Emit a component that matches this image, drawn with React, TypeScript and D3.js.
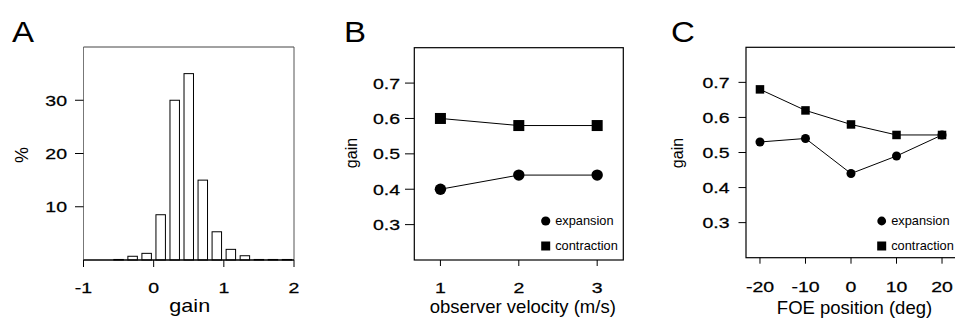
import React from "react";
import * as d3 from "d3";

// Panel A: histogram of gain
const histCenters = [-0.5, -0.3, -0.1, 0.1, 0.3, 0.5, 0.7, 0.9, 1.1, 1.3, 1.5, 1.7, 1.9];
const histPercent = [0.1, 0.7, 1.25, 8.5, 30, 35, 15, 5.3, 2.0, 0.8, 0.1, 0.1, 0.1];
const histXTicks = [-1, 0, 1, 2];
const histYTicks = [10, 20, 30];

// Panel B: observer velocity
const velocity = [1, 2, 3];
const velExpansion = [0.4, 0.44, 0.44];
const velContraction = [0.6, 0.58, 0.58];

// Panel C: FOE position
const foePos = [-20, -10, 0, 10, 20];
const foeExpansion = [0.53, 0.54, 0.44, 0.49, 0.55];
const foeContraction = [0.68, 0.62, 0.58, 0.55, 0.55];

const gainTicks = [0.3, 0.4, 0.5, 0.6, 0.7];
const legendLabels = ["expansion", "contraction"];

const FONT = "'Liberation Sans', Arial, Helvetica, sans-serif";
const SX = 1.3;

function Tick({ x, y, anchor, children }: { x: number; y: number; anchor: string; children: React.ReactNode }) {
  return (
    <text transform={`translate(${x},${y}) scale(${SX},1)`} textAnchor={anchor} fontSize={15}
      fontFamily={FONT} fill="#000" stroke="#000" strokeWidth={0.25}>{children}</text>
  );
}

function PanelA() {
  const L = 83.5, R = 294, T = 47, B = 260;
  const x = d3.scaleLinear().domain([-1, 2]).range([L, R]);
  const y = d3.scaleLinear().domain([0, 40]).range([B, T]);
  const bw = x(0.135) - x(0);
  return (
    <g>
      <text transform="translate(12,41.5) scale(1.1,1)" fontSize={30} fontFamily={FONT}>A</text>
      <line x1={L} x2={L} y1={T} y2={B} stroke="#777" strokeWidth={1} />
      <line x1={L} x2={R} y1={T} y2={T} stroke="#444" strokeWidth={1} />
      <line x1={R} x2={R} y1={T} y2={B} stroke="#555" strokeWidth={1} />
      {histCenters.map((c, i) => (
        <rect key={i} x={x(c) - bw / 2} y={y(histPercent[i])} width={bw}
          height={B - y(histPercent[i])} fill="#fff" stroke="#000" strokeWidth={1} />
      ))}
      <line x1={L} x2={R} y1={B} y2={B} stroke="#000" strokeWidth={1.4} />
      {histYTicks.map((t) => (
        <g key={t}>
          <line x1={75} x2={L} y1={y(t)} y2={y(t)} stroke="#000" strokeWidth={1} />
          <Tick x={67} y={y(t) + 5.5} anchor="end">{t}</Tick>
        </g>
      ))}
      {histXTicks.map((t) => (
        <g key={t}>
          <line x1={x(t)} x2={x(t)} y1={B} y2={B + 7} stroke="#000" strokeWidth={1} />
          <Tick x={x(t)} y={293} anchor="middle">{t}</Tick>
        </g>
      ))}
      <text transform={`translate(${(L + R) / 2 + 1},312) scale(1.2,1)`} textAnchor="middle"
        fontSize={18} fontFamily={FONT}>gain</text>
      <text transform={`translate(28,${155}) rotate(-90)`} textAnchor="middle"
        fontSize={18} fontFamily={FONT}>%</text>
    </g>
  );
}

type LineProps = {
  letter: string; letterX: number;
  L: number; R: number; T: number; B: number;
  xDomain: [number, number]; xs: number[];
  exp: number[]; con: number[];
  sq: number; r: number;
  tickLabelRight: number; tickStart: number;
  ylabX: number; xTitle: string; xTitleY: number; xTickY: number;
  legX: number; legY: number; legR: number; legSq: number;
};

function LinePanel(p: LineProps) {
  const x = d3.scaleLinear().domain(p.xDomain).range([p.L, p.R]);
  const y = d3.scaleLinear().domain([0.2, 0.8]).range([p.B, p.T]);
  const line = d3.line<number>().x((_, i) => x(p.xs[i])).y((v) => y(v));
  return (
    <g>
      <text transform={`translate(${p.letterX},41.5) scale(1.1,1)`} fontSize={30} fontFamily={FONT}>{p.letter}</text>
      <rect x={p.L} y={p.T} width={p.R - p.L} height={p.B - p.T} fill="none"
        stroke="#000" strokeWidth={1.2} />
      {gainTicks.map((t) => (
        <g key={t}>
          <line x1={p.tickStart} x2={p.L} y1={y(t)} y2={y(t)} stroke="#000" strokeWidth={1} />
          <Tick x={p.tickLabelRight} y={y(t) + 5.5} anchor="end">{t.toFixed(1)}</Tick>
        </g>
      ))}
      {p.xs.map((t) => (
        <g key={t}>
          <line x1={x(t)} x2={x(t)} y1={p.B} y2={p.B + 6} stroke="#000" strokeWidth={1} />
          <Tick x={x(t)} y={p.xTickY} anchor="middle">{t}</Tick>
        </g>
      ))}
      <path d={line(p.con) || ""} fill="none" stroke="#000" strokeWidth={1} />
      <path d={line(p.exp) || ""} fill="none" stroke="#000" strokeWidth={1} />
      {p.con.map((v, i) => (
        <rect key={"c" + i} x={x(p.xs[i]) - p.sq / 2} y={y(v) - p.sq / 2}
          width={p.sq} height={p.sq} fill="#000" />
      ))}
      {p.exp.map((v, i) => (
        <circle key={"e" + i} cx={x(p.xs[i])} cy={y(v)} r={p.r} fill="#000" />
      ))}
      <circle cx={p.legX} cy={p.legY} r={p.legR} fill="#000" />
      <text x={p.legX + 9.5} y={p.legY + 4} fontSize={12.8}
        fontFamily={FONT}>{legendLabels[0]}</text>
      <rect x={p.legX - p.legSq / 2} y={p.legY + 25 - p.legSq / 2} width={p.legSq}
        height={p.legSq} fill="#000" />
      <text x={p.legX + 9.5} y={p.legY + 29} fontSize={12.8}
        fontFamily={FONT}>{legendLabels[1]}</text>
      <text x={(p.L + Math.min(p.R, 955)) / 2 + 4} y={p.xTitleY} textAnchor="middle"
        fontSize={18.5} fontFamily={FONT}>{p.xTitle}</text>
      <text transform={`translate(${p.ylabX},${153}) rotate(-90)`} textAnchor="middle"
        fontSize={16} fontFamily={FONT}>gain</text>
    </g>
  );
}

export default function App() {
  return (
    <svg width={955} height={320} style={{ position: "absolute", left: 0, top: 0, background: "#fff" }}>
      <rect x={0} y={0} width={955} height={320} fill="#fff" />
      <PanelA />
      <LinePanel letter="B" letterX={344} L={414.3} R={623.3} T={47.7} B={260}
        xDomain={[2 / 3, 10 / 3]} xs={velocity} exp={velExpansion} con={velContraction}
        sq={11} r={5.7} tickLabelRight={400} tickStart={405} ylabX={357}
        xTitle="observer velocity (m/s)" xTitleY={313} xTickY={293}
        legX={545.7} legY={221} legR={4.6} legSq={9} />
      <LinePanel letter="C" letterX={671} L={746} R={956} T={47.3} B={257.7}
        xDomain={[-23.07, 23.07]} xs={foePos} exp={foeExpansion} con={foeContraction}
        sq={8.5} r={4.5} tickLabelRight={729.5} tickStart={738.5} ylabX={683}
        xTitle="FOE position (deg)" xTitleY={314} xTickY={291.5}
        legX={881.7} legY={221} legR={4.4} legSq={9} />
    </svg>
  );
}
